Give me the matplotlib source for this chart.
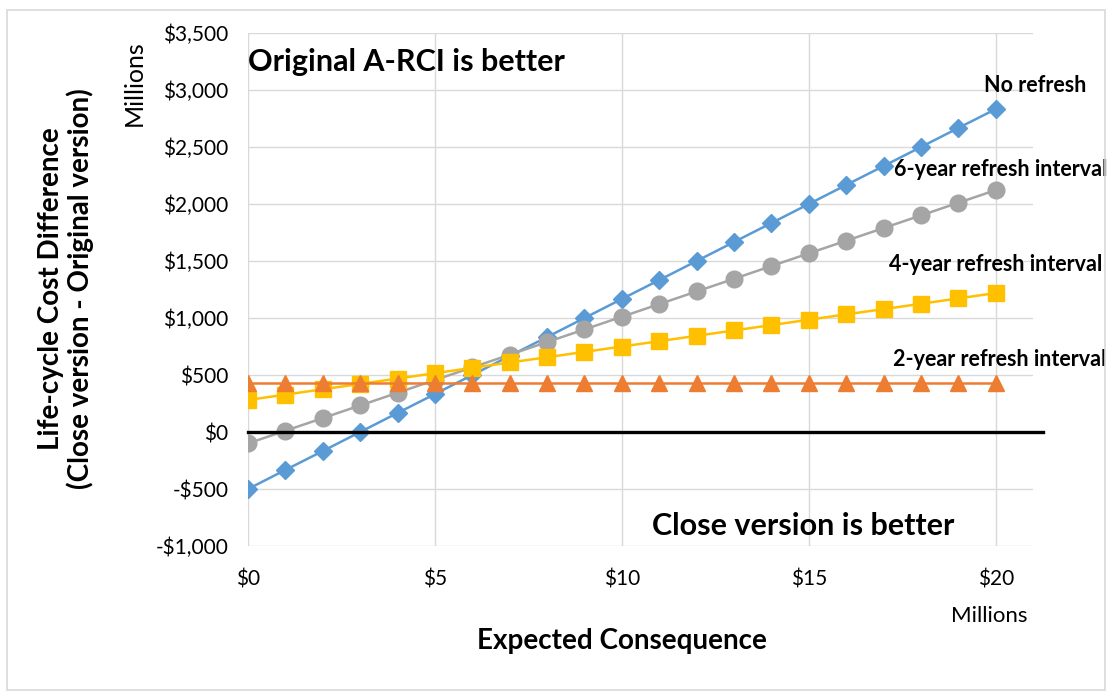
import matplotlib.pyplot as plt
from matplotlib.patches import Rectangle
from matplotlib.ticker import FuncFormatter

plt.rcParams['font.family'] = ['Lato', 'DejaVu Sans']

# expected consequence, $ millions
consequence = [0, 1, 2, 3, 4, 5, 6, 7, 8, 9, 10,
               11, 12, 13, 14, 15, 16, 17, 18, 19, 20]

# life-cycle cost difference, $ millions
no_refresh = [-500, -333, -167, 0, 167, 333, 500, 667, 833, 1000, 1167,
              1333, 1500, 1667, 1833, 2000, 2167, 2333, 2500, 2667, 2833]
refresh_6yr = [-100, 11, 122, 233, 344, 456, 567, 678, 789, 900, 1011,
               1122, 1233, 1344, 1456, 1567, 1678, 1789, 1900, 2011, 2122]
refresh_4yr = [281, 328, 375, 422, 469, 516, 563, 610, 656, 703, 750,
               797, 844, 891, 938, 985, 1032, 1078, 1125, 1172, 1219]
refresh_2yr = [430, 430, 430, 430, 430, 430, 430, 430, 430, 430, 430,
               430, 430, 430, 430, 430, 430, 430, 430, 430, 430]

series = [
    ('No refresh', no_refresh, '#5B9BD5', 'D', 9),
    ('6-year refresh interval', refresh_6yr, '#A5A5A5', 'o', 12),
    ('4-year refresh interval', refresh_4yr, '#FFC000', 's', 11),
    ('2-year refresh interval', refresh_2yr, '#ED7D31', '^', 11),
]
# where the series names sit (data coords)
label_pos = [(21.07, 3044), (20.13, 2307), (20.0, 1474), (20.1, 640)]

fig = plt.figure(figsize=(11.12, 6.96), dpi=100)
fig.patches.append(Rectangle((0.006, 0.009), 0.988, 0.976, transform=fig.transFigure,
                             fill=False, edgecolor='#d9d9d9', lw=1.2))

ax = fig.add_axes([0.223, 0.2155, 0.706, 0.737])

for name, vals, col, mk, ms in series:
    ax.plot(consequence, vals, color=col, lw=1.8, marker=mk, markersize=ms,
            markeredgecolor=col, zorder=3)

ax.axhline(0, color='black', lw=2.4, zorder=4, xmax=1.013, clip_on=False)

ax.set_xlim(0, 21)
ax.set_ylim(-1000, 3500)
ax.set_xticks([0, 5, 10, 15, 20])
ax.set_yticks(range(-1000, 3501, 500))

money = FuncFormatter(lambda v, p: ('-$' if v < 0 else '$') + f'{abs(v):,.0f}')
ax.xaxis.set_major_formatter(money)
ax.yaxis.set_major_formatter(money)
ax.tick_params(length=0, labelsize=15)
ax.tick_params(axis='y', pad=14)
ax.tick_params(axis='x', pad=17)
ax.grid(True, color='#d9d9d9', lw=1)
for s in ax.spines.values():
    s.set_visible(False)

fig.text(0.559, 0.079, 'Expected Consequence', ha='center', va='center',
         fontsize=20, fontweight='bold')
fig.text(0.059, 0.586, 'Life-cycle Cost Difference\n(Close version - Original version)',
         rotation=90, ha='center', va='center', fontsize=20, fontweight='bold',
         linespacing=1.1)
fig.text(0.121, 0.88, 'Millions', rotation=90, ha='center', va='center', fontsize=18)
fig.text(0.890, 0.115, 'Millions', ha='center', va='center', fontsize=16)

ax.text(0.0, 3245, 'Original A-RCI is better', fontsize=22, fontweight='bold',
        ha='left', va='center')
ax.text(14.86, -825, 'Close version is better', fontsize=22, fontweight='bold',
        ha='center', va='center')

for (name, vals, col, mk, ms), (lx, ly) in zip(series, label_pos):
    ax.text(lx, ly, name, fontsize=15.5, fontweight='bold', ha='center', va='center',
            clip_on=False)

fig.savefig('out.png', dpi=100)
